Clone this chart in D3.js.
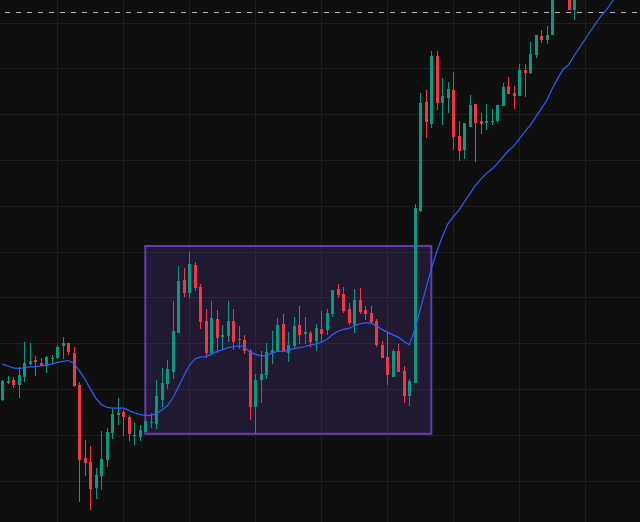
<!DOCTYPE html>
<html>
<head>
<meta charset="utf-8">
<script src="https://cdn.jsdelivr.net/npm/d3@7"></script>
<style>
  html, body { margin: 0; padding: 0; background: #0f0f0f; overflow: hidden; }
  svg { display: block; }
</style>
</head>
<body>
<svg class="candles" width="640" height="522"></svg>
<script>
// OHLC per bar (bars 101-102 sit above the visible area)
const open = [
  1088, 1106, 1110, 1104, 1113, 1127, 1132, 1128, 1125, 1133,
  1134, 1147, 1150, 1139, 1104, 1025, 1020, 992, 1005, 1022,
  1052, 1071, 1075, 1069, 1049, 1048, 1053, 1063, 1062, 1088,
  1105, 1118, 1161, 1219, 1205, 1235, 1211, 1174, 1139, 1176,
  1157, 1158, 1174, 1153, 1153, 1141, 1080, 1110, 1115, 1139,
  1140, 1171, 1139, 1147, 1170, 1160, 1161, 1152, 1165, 1164,
  1182, 1209, 1204, 1187, 1170, 1197, 1186, 1183, 1174, 1148,
  1135, 1113, 1141, 1120, 1092, 1106, 1294, 1413, 1389, 1463,
  1412, 1418, 1426, 1376, 1361, 1386, 1411, 1392, 1390, 1391,
  1392, 1409, 1431, 1423, 1420, 1448, 1445, 1465, 1485, 1481,
  1486, 1546, 1568, 1550, 1514
];
const high = [
  1110, 1114, 1113, 1124, 1151, 1150, 1136, 1134, 1136, 1137,
  1148, 1157, 1150, 1146, 1108, 1044, 1038, 1014, 1054, 1057,
  1079, 1090, 1077, 1071, 1063, 1061, 1065, 1074, 1110, 1123,
  1132, 1196, 1234, 1232, 1250, 1239, 1215, 1187, 1196, 1186,
  1170, 1196, 1187, 1169, 1159, 1144, 1116, 1141, 1150, 1163,
  1177, 1182, 1162, 1178, 1190, 1178, 1163, 1171, 1185, 1187,
  1208, 1214, 1211, 1194, 1209, 1210, 1190, 1190, 1176, 1152,
  1161, 1144, 1149, 1125, 1111, 1302, 1423, 1426, 1469, 1469,
  1439, 1435, 1446, 1392, 1390, 1421, 1411, 1401, 1411, 1406,
  1410, 1434, 1440, 1431, 1455, 1455, 1479, 1486, 1492, 1496,
  1557, 1579, 1585, 1562, 1551
];
const low = [
  1087, 1105, 1101, 1090, 1107, 1126, 1114, 1125, 1117, 1127,
  1133, 1133, 1137, 1102, 977, 1005, 968, 980, 990, 1015,
  1045, 1061, 1049, 1043, 1039, 1043, 1053, 1057, 1056, 1080,
  1100, 1111, 1161, 1200, 1199, 1207, 1165, 1134, 1138, 1139,
  1142, 1151, 1142, 1144, 1138, 1066, 1051, 1085, 1111, 1127,
  1140, 1140, 1129, 1144, 1149, 1149, 1146, 1141, 1151, 1159,
  1178, 1199, 1183, 1170, 1161, 1182, 1175, 1171, 1146, 1134,
  1104, 1113, 1118, 1085, 1081, 1106, 1293, 1374, 1385, 1404,
  1388, 1401, 1361, 1349, 1351, 1386, 1348, 1378, 1383, 1388,
  1390, 1409, 1422, 1406, 1420, 1419, 1444, 1461, 1478, 1477,
  1486, 1541, 1546, 1514, 1503
];
const close = [
  1109, 1109, 1104, 1115, 1128, 1131, 1129, 1125, 1135, 1134,
  1146, 1150, 1140, 1103, 1022, 1019, 991, 1006, 1023, 1053,
  1073, 1074, 1069, 1051, 1050, 1055, 1065, 1064, 1092, 1106,
  1122, 1163, 1218, 1205, 1236, 1210, 1173, 1139, 1177, 1156,
  1159, 1174, 1151, 1154, 1141, 1080, 1110, 1116, 1140, 1142,
  1170, 1140, 1148, 1169, 1159, 1162, 1151, 1166, 1160, 1183,
  1208, 1203, 1185, 1172, 1197, 1184, 1182, 1173, 1148, 1134,
  1115, 1141, 1118, 1092, 1109, 1297, 1412, 1391, 1463, 1412,
  1420, 1427, 1375, 1360, 1390, 1410, 1390, 1389, 1392, 1392,
  1410, 1430, 1422, 1420, 1448, 1445, 1466, 1486, 1481, 1486,
  1546, 1568, 1550, 1514, 1540
];
// moving average line
const movingAvg = [
  1127, 1125, 1123, 1122.5, 1123, 1124, 1124, 1125, 1126, 1127,
  1129, 1130, 1131, 1128, 1120, 1111, 1100, 1090, 1083, 1080,
  1079, 1079, 1079, 1076.5, 1074, 1072, 1071, 1071, 1073, 1077,
  1081.5, 1090, 1102, 1114, 1125.5, 1132.5, 1135, 1135, 1138, 1141,
  1142.5, 1145, 1146, 1147, 1146, 1140, 1138, 1136, 1136, 1139,
  1141, 1141, 1142, 1144, 1145, 1146, 1148, 1149, 1151, 1154,
  1159, 1163, 1165, 1166, 1169, 1171, 1172, 1172, 1169, 1165,
  1162, 1159, 1156.5, 1152, 1148, 1165, 1187, 1209, 1231, 1250,
  1266, 1280, 1288, 1295, 1304, 1313, 1322, 1329, 1335, 1340,
  1346, 1353, 1360, 1365, 1373, 1381, 1388, 1397, 1406, 1415,
  1428, 1439, 1449, 1454, 1464, 1473, 1482, 1491, 1500, 1508,
  1515, 1524, 1533
];
// grid: price levels and bar indices of the time ticks
const priceTicks = [1000, 1050, 1100, 1150, 1200, 1250, 1300, 1350, 1400, 1450, 1500];
const timeTicks = [10, 22, 34, 46, 58, 70, 82, 94, 106];
// drawings: range box (bar from/to, price top/bottom) and a horizontal level
const boxBars = [26, 78];
const boxPrices = [1256, 1051];
const levelPrice = [1511];

const width = 640;
const height = 522;
const upCol = '#089981';
const downCol = '#f23645';

const x = d3.scaleLinear()
            .domain([0, 100])
            .range([2.3, 552.3]);

const y = d3.scaleLinear()
            .domain([1000, 1500])
            .range([480.5, 22.5]);

const px = v => Math.round(v) + 0.5;

const svg = d3.select('svg.candles');

svg.append('rect')
  .attr('width', width)
  .attr('height', height)
  .attr('fill', '#0f0f0f');

// grid
const grid = svg.append('g').attr('class', 'grid');
grid.selectAll('line.h')
  .data(priceTicks)
  .enter()
  .append('line')
  .attr('class', 'h')
  .attr('x1', 0).attr('x2', width)
  .attr('y1', d => px(y(d))).attr('y2', d => px(y(d)))
  .attr('stroke', '#1f1f1f')
  .attr('stroke-width', 1);

grid.selectAll('line.v')
  .data(timeTicks)
  .enter()
  .append('line')
  .attr('class', 'v')
  .attr('y1', 0).attr('y2', height)
  .attr('x1', d => Math.round(x(d)) + 0.5).attr('x2', d => Math.round(x(d)) + 0.5)
  .attr('stroke', '#1f1f1f')
  .attr('stroke-width', 1);

// horizontal level
svg.selectAll('line.level')
  .data(levelPrice)
  .enter()
  .append('line')
  .attr('class', 'level')
  .attr('x1', 0).attr('x2', width)
  .attr('y1', d => px(y(d))).attr('y2', d => px(y(d)))
  .attr('stroke', '#b2b5be')
  .attr('stroke-width', 1)
  .attr('stroke-dasharray', '5 6')
  .attr('stroke-dashoffset', 6);

// range box
svg.append('rect')
  .attr('class', 'box')
  .attr('x', x(boxBars[0]))
  .attr('y', y(boxPrices[0]))
  .attr('width', x(boxBars[1]) - x(boxBars[0]))
  .attr('height', y(boxPrices[1]) - y(boxPrices[0]))
  .attr('fill', 'rgba(103, 58, 183, 0.2)')
  .attr('stroke', '#673ab7')
  .attr('stroke-width', 2);

// candles
const bars = close.map((c, i) => ({i: i, o: open[i], h: high[i], l: low[i], c: c}));

const candle = svg.append('g')
  .attr('class', 'bars')
  .selectAll('g')
  .data(bars)
  .enter()
  .append('g')
  .attr('fill', d => d.c >= d.o ? upCol : downCol)
  .attr('stroke', d => d.c >= d.o ? upCol : downCol);

candle.append('line')
  .attr('x1', d => px(x(d.i))).attr('x2', d => px(x(d.i)))
  .attr('y1', d => Math.round(y(d.h)))
  .attr('y2', d => Math.round(y(d.l)))
  .attr('stroke-width', 1);

candle.append('rect')
  .attr('x', d => Math.round(x(d.i)) - 1)
  .attr('width', 3)
  .attr('y', d => Math.round(y(Math.max(d.o, d.c))))
  .attr('height', d => Math.max(1, Math.round(y(Math.min(d.o, d.c))) - Math.round(y(Math.max(d.o, d.c)))))
  .attr('stroke', 'none');

// moving average
const maLine = d3.line()
                 .x((d, i) => x(i))
                 .y(d => y(d));

svg.append('path')
  .datum(movingAvg)
  .attr('class', 'ma')
  .attr('d', maLine)
  .attr('fill', 'none')
  .attr('stroke', '#2962ff')
  .attr('stroke-width', 1.2);
</script>
</body>
</html>
